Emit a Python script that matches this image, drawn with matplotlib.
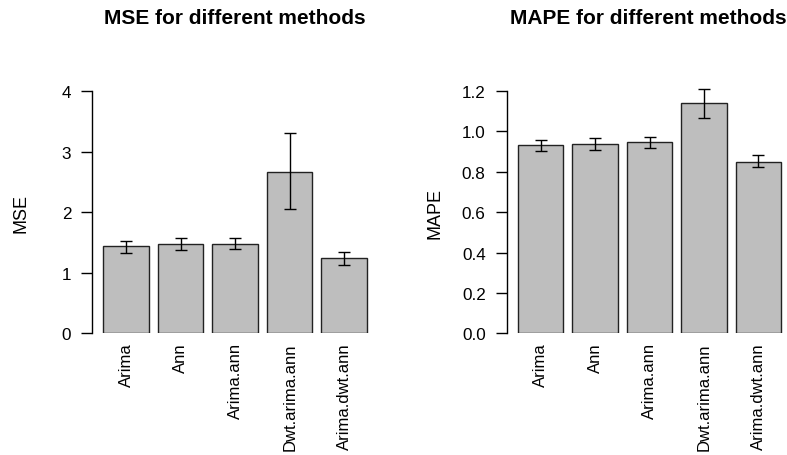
import matplotlib
matplotlib.use("Agg")
import matplotlib.pyplot as plt
import numpy as np

plt.rcParams['font.family'] = ['Liberation Sans', 'DejaVu Sans']

methods = ["Arima", "Ann", "Arima.ann", "Dwt.arima.ann", "Arima.dwt.ann"]

mse_mean = [1.44, 1.48, 1.48, 2.67, 1.24]
mse_low = [1.33, 1.37, 1.39, 2.05, 1.13]
mse_high = [1.53, 1.58, 1.57, 3.30, 1.35]
mse_ticks = [0, 1, 2, 3, 4]
mse_ticklabels = ["0", "1", "2", "3", "4"]

mape_mean = [0.931, 0.936, 0.946, 1.142, 0.848]
mape_low = [0.905, 0.909, 0.919, 1.066, 0.822]
mape_high = [0.957, 0.967, 0.974, 1.212, 0.883]
mape_ticks = [0.0, 0.2, 0.4, 0.6, 0.8, 1.0, 1.2]
mape_ticklabels = ["0.0", "0.2", "0.4", "0.6", "0.8", "1.0", "1.2"]

W, H = 787, 456
fig = plt.figure(figsize=(W / 100, H / 100), dpi=100)

def px_axes(left, right, top, bottom):
    return fig.add_axes([left / W, 1 - bottom / H, (right - left) / W, (bottom - top) / H])

def draw(ax, means, lows, highs, ticks, ticklabels, ylabel):
    x = np.arange(len(methods))
    means = np.array(means)
    yerr = np.vstack([means - np.array(lows), np.array(highs) - means])
    ax.bar(x, means, width=1 / 1.2, color="#BEBEBE", edgecolor="#222222", linewidth=1.0)
    eb = ax.errorbar(x, means, yerr=yerr, fmt="none", ecolor="black", elinewidth=1.0,
                     capsize=4.6, capthick=1.0)
    for artist in eb.lines[1] + eb.lines[2]:
        artist.set_clip_on(False)
    ax.set_xlim(-0.6167, len(methods) - 1 + 0.6167)
    ax.set_ylim(ticks[0], ticks[-1])
    for s in ["top", "right", "bottom"]:
        ax.spines[s].set_visible(False)
    ax.spines["left"].set_linewidth(1.0)
    ax.spines["left"].set_bounds(ticks[0], ticks[-1])
    ax.set_yticks(ticks)
    ax.set_yticklabels(ticklabels, fontsize=12.3)
    ax.tick_params(axis="y", length=7.6, width=1.0, pad=7.7)
    ax.set_xticks(x)
    ax.set_xticklabels(methods, rotation=90, fontsize=12, va="top")
    ax.tick_params(axis="x", length=0, pad=6.5)
    ax.set_ylabel(ylabel, fontsize=13)
    ax.set_facecolor("none")
    return ax

ax1 = px_axes(92.4, 377.8, 92, 334.3)
draw(ax1, mse_mean, mse_low, mse_high, mse_ticks, mse_ticklabels, "MSE")
ax2 = px_axes(506.9, 792.1, 92, 334.3)
draw(ax2, mape_mean, mape_low, mape_high, mape_ticks, mape_ticklabels, "MAPE")

for ax, xc in [(ax1, 21), (ax2, 435)]:
    ax.yaxis.set_label_coords(xc / W, 0.5 * (1 - 92 / H + 1 - 334.3 / H),
                              transform=fig.transFigure)
    ax.yaxis.label.set_verticalalignment("center")

fig.text(235 / W, 1 - 19 / H, "MSE for different methods", ha="center", va="center",
         fontsize=15, fontweight="bold")
fig.text(648 / W, 1 - 19 / H, "MAPE for different methods", ha="center", va="center",
         fontsize=15, fontweight="bold")

fig.savefig("out.png", dpi=100, facecolor="white")
